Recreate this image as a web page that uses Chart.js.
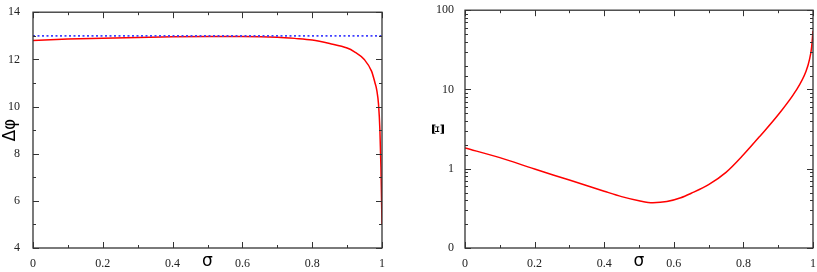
<!DOCTYPE html>
<html>
<head>
<meta charset="utf-8">
<script src="https://cdn.jsdelivr.net/npm/chart.js@4.4.1/dist/chart.umd.min.js"></script>
<style>
    html, body { margin: 0; padding: 0; background: #fff; }
    #wrap { position: relative; width: 817px; height: 272px; }
    canvas { position: absolute; top: 0; }
    #leftChart { left: 0; }
    #rightChart { left: 400px; }
</style>
</head>
<body>
<div id="wrap">
    <canvas id="leftChart" width="400" height="272"></canvas>
    <canvas id="rightChart" width="417" height="272"></canvas>
</div>
<script>
// --- left panel : delta phi vs sigma ---
const sigmaLeft = [0, 0.1, 0.2, 0.3, 0.4, 0.5, 0.6, 0.7, 0.75, 0.8, 0.85, 0.9, 0.92, 0.95, 0.97, 0.98, 0.985, 0.99, 0.994, 0.997, 1.0];
const deltaPhi  = [12.80, 12.86, 12.90, 12.93, 12.96, 12.97, 12.97, 12.94, 12.89, 12.82, 12.67, 12.48, 12.33, 11.98, 11.5, 11.0, 10.7, 10.1, 9.0, 7.4, 5.0];
const refSigma = [0, 1];
const refLevel = [13, 13];

// --- right panel : Xi vs sigma (log) ---
const sigmaRight = [0, 0.1, 0.2, 0.3, 0.4, 0.45, 0.5, 0.54, 0.58, 0.62, 0.65, 0.7, 0.75, 0.8, 0.85, 0.9, 0.95, 0.98, 0.99, 0.996, 1.0];
const xiValues   = [1.83, 1.38, 0.99, 0.72, 0.52, 0.445, 0.395, 0.373, 0.385, 0.43, 0.49, 0.63, 0.90, 1.50, 2.65, 4.8, 9.5, 17, 24, 34, 55];

const xTickLabels = ['0', '0.2', '0.4', '0.6', '0.8', '1'];
const yTickLeft = [4, 6, 8, 10, 12, 14];
const yTickRight = { 0.1: '0', 1: '1', 10: '10', 100: '100' };

const tickFont = { family: "'Liberation Serif', serif", size: 12 };
const axisColor = '#333';

function pts(xs, ys) {
    return xs.map((x, i) => ({ x: x, y: ys[i] }));
}

// frame + inward ticks on all four sides (xmgrace look)
const framePlugin = {
    id: 'frame',
    afterDatasetsDraw(chart) {
        const ctx = chart.ctx;
        const a = chart.chartArea;
        ctx.save();
        ctx.strokeStyle = axisColor;
        ctx.lineWidth = 1.3;
        ctx.strokeRect(a.left, a.top, a.right - a.left, a.bottom - a.top);
        ctx.lineWidth = 1;
        const xs = chart.scales.x, ys = chart.scales.y;
        xs.ticks.forEach(t => {
            const px = Math.round(xs.getPixelForValue(t.value)) + 0.5;
            const len = t.label ? 6 : 3;
            ctx.beginPath();
            ctx.moveTo(px, a.bottom); ctx.lineTo(px, a.bottom - len);
            ctx.moveTo(px, a.top); ctx.lineTo(px, a.top + len);
            ctx.stroke();
        });
        ys.ticks.forEach(t => {
            const py = Math.round(ys.getPixelForValue(t.value)) + 0.5;
            const len = t.label ? 6 : 3;
            ctx.beginPath();
            ctx.moveTo(a.left, py); ctx.lineTo(a.left + len, py);
            ctx.moveTo(a.right, py); ctx.lineTo(a.right - len, py);
            ctx.stroke();
        });
        ctx.restore();
    }
};

function xAxis() {
    return {
        type: 'linear', min: 0, max: 1,
        grid: { display: false },
        border: { display: false },
        ticks: {
            stepSize: 0.1, autoSkip: false, maxRotation: 0, padding: 1,
            color: '#222', font: tickFont,
            callback: v => {
                const s = Math.round(v * 10) / 10;
                const idx = Math.round(s * 5);
                return Math.abs(s * 5 - idx) < 1e-6 ? xTickLabels[idx] : '';
            }
        },
        title: { display: true, text: 'σ', color: '#000', font: { family: "'DejaVu Sans', sans-serif", size: 17 }, padding: 0 },
        afterFit: s => { s.height = 24; }
    };
}

new Chart(document.getElementById('leftChart'), {
    type: 'line',
    data: {
        datasets: [
            {
                data: pts(refSigma, refLevel),
                borderColor: '#4040ff',
                borderWidth: 1.8,
                borderDash: [2, 2.5],
                pointRadius: 0
            },
            {
                data: pts(sigmaLeft, deltaPhi),
                borderColor: '#ff0000',
                borderWidth: 1.5,
                pointRadius: 0,
                cubicInterpolationMode: 'monotone'
            }
        ]
    },
    plugins: [framePlugin],
    options: {
        responsive: false,
        animation: false,
        layout: { padding: { top: 4, right: 18, left: 0, bottom: 0 } },
        plugins: { legend: { display: false }, tooltip: { enabled: false } },
        scales: {
            x: xAxis(),
            y: {
                min: 4, max: 14,
                grid: { display: false },
                border: { display: false },
                ticks: {
                    stepSize: 1, autoSkip: false, padding: 5, color: '#222', font: tickFont,
                    callback: v => yTickLeft.includes(v) ? String(v) : ''
                },
                title: { display: true, text: 'Δφ', color: '#000', font: { family: "'DejaVu Sans', sans-serif", size: 17 }, padding: 0 },
                afterFit: s => { s.width = 33; }
            }
        }
    }
});

new Chart(document.getElementById('rightChart'), {
    type: 'line',
    data: {
        datasets: [{
            data: pts(sigmaRight, xiValues),
            borderColor: '#ff0000',
            borderWidth: 1.5,
            pointRadius: 0,
            cubicInterpolationMode: 'monotone'
        }]
    },
    plugins: [framePlugin],
    options: {
        responsive: false,
        animation: false,
        layout: { padding: { top: 5, right: 4, left: 30, bottom: 0 } },
        plugins: { legend: { display: false }, tooltip: { enabled: false } },
        scales: {
            x: xAxis(),
            y: {
                type: 'logarithmic', min: 0.1, max: 100,
                grid: { display: false },
                border: { display: false },
                ticks: {
                    autoSkip: false, padding: 3, color: '#222', font: tickFont,
                    callback: v => yTickRight[v] || ''
                },
                title: { display: true, text: 'Ξ', color: '#000', font: { family: "'DejaVu Serif', serif", size: 16, weight: 'bold' }, padding: 0 },
                afterFit: s => { s.width = 35; }
            }
        }
    }
});
</script>
</body>
</html>
